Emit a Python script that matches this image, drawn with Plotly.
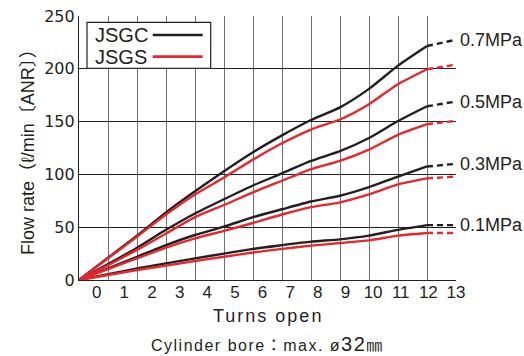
import plotly.graph_objects as go

# ---- data (x = turns open, gridline units; last point = dashed extension) ----
turns = [0, 1, 2, 3, 4, 5, 6, 7, 8, 9, 10, 11, 12, 13]
tick_labels = [0, 1, 2, 3, 4, 5, 6, 7, 8, 9, 10, 11, 12, 13]
y_ticks = [0, 50, 100, 150, 200, 250]

jsgc_01 = [0, 5.4, 11, 15.8, 20.5, 25, 29.5, 33, 36.3, 38.5, 42, 47.5, 52, 52]
jsgc_03 = [0, 11, 22, 33, 42.6, 50.5, 59.5, 67, 74.3, 79.8, 88, 98, 107.5, 110]
jsgc_05 = [0, 15, 30.5, 47.5, 63, 76.5, 89.5, 101, 112.8, 122, 134.5, 150.5, 164.5, 169]
jsgc_07 = [0, 21, 42, 64, 84, 103, 121, 137, 151.5, 163.5, 181, 203, 221.6, 227.5]

jsgs_01 = [0, 4.7, 9.5, 13.6, 18, 22, 26, 29.5, 32.5, 35, 37.5, 42, 44.5, 44.5]
jsgs_03 = [0, 10.4, 20.5, 30.6, 39.4, 46.5, 54, 62, 69, 73.5, 81, 90.5, 96.2, 98]
jsgs_05 = [0, 14, 28.5, 44, 59.5, 71, 83, 94, 105, 112.9, 123.5, 137.5, 147.5, 150.7]
jsgs_07 = [0, 20.5, 41, 62, 81, 97, 114, 129.5, 142.5, 152, 166.5, 185.4, 199.6, 204]

pressures = ["0.1MPa", "0.3MPa", "0.5MPa", "0.7MPa"]
series_names = ["JSGC", "JSGS"]

BLACK = "#231f20"
RED = "#e8262b"
TXT = "#231f20"
FONT = "Liberation Sans, Arial, Noto Sans CJK JP, sans-serif"

jsgc = [jsgc_01, jsgc_03, jsgc_05, jsgc_07]
jsgs = [jsgs_01, jsgs_03, jsgs_05, jsgs_07]

fig = go.Figure()

def add_series(vals, color):
    fig.add_trace(go.Scatter(
        x=turns[:13], y=vals[:13], mode="lines",
        line=dict(color=color, width=2.4, shape="spline", smoothing=0.6),
        showlegend=False, hoverinfo="skip", cliponaxis=False))
    fig.add_trace(go.Scatter(
        x=turns[12:], y=vals[12:], mode="lines",
        line=dict(color=color, width=2.4, dash="6px,4px"),
        showlegend=False, hoverinfo="skip", cliponaxis=False))

for v in jsgc:
    add_series(v, BLACK)
for v in jsgs:
    add_series(v, RED)

# pressure labels at the end of JSGC curves
annotations = []
for lab, v in zip(pressures, jsgc):
    annotations.append(dict(x=turns[-1], y=v[-1], xref="x", yref="y", text=lab,
                            showarrow=False, xanchor="left", yanchor="middle",
                            xshift=2, font=dict(family=FONT, size=18, color=TXT)))

# custom legend (text then line sample)
annotations += [
    dict(x=0.036, y=0.927, xref="paper", yref="paper", text=series_names[0], showarrow=False,
         xanchor="left", yanchor="middle", font=dict(family=FONT, size=20, color=TXT)),
    dict(x=0.036, y=0.845, xref="paper", yref="paper", text=series_names[1], showarrow=False,
         xanchor="left", yanchor="middle", font=dict(family=FONT, size=20, color=TXT)),
    # axis titles
    dict(x=-0.135, y=0.5, xref="paper", yref="paper", text="Flow rate（ℓ/min〔ANR〕）",
         textangle=-90, showarrow=False, xanchor="center", yanchor="middle",
         font=dict(family=FONT, size=18, color=TXT)),
    dict(x=0.5, y=-0.138, xref="paper", yref="paper",
         text="<span style='letter-spacing:2px'>Turns open</span>", showarrow=False,
         xanchor="center", yanchor="middle", font=dict(family=FONT, size=18, color=TXT)),
    dict(x=0.5, y=-0.244, xref="paper", yref="paper",
         text="<span style='letter-spacing:1.5px'>Cylinder bore：max. ø<span style='font-size:20px'>32</span>㎜</span>",
         showarrow=False, xanchor="center", yanchor="middle",
         font=dict(family=FONT, size=16, color=TXT)),
]

shapes = [
    dict(type="rect", xref="paper", yref="paper", x0=0.0212, x1=0.3493, y0=0.802, y1=0.976,
         line=dict(color=BLACK, width=1.2), fillcolor="white", layer="above"),
    dict(type="line", xref="paper", yref="paper", x0=0.1955, x1=0.328, y0=0.928, y1=0.928,
         line=dict(color=BLACK, width=2.6)),
    dict(type="line", xref="paper", yref="paper", x0=0.1955, x1=0.328, y0=0.846, y1=0.846,
         line=dict(color=RED, width=2.6)),
]

fig.update_layout(
    width=524, height=356,
    margin=dict(l=79, r=68, t=16, b=76, autoexpand=False),
    paper_bgcolor="white", plot_bgcolor="white",
    showlegend=False,
    annotations=annotations,
    shapes=shapes,
    xaxis=dict(range=[0, 13], dtick=1, tick0=0, showgrid=True, gridcolor="#707070", gridwidth=1.2,
               showticklabels=False, ticks="", zeroline=False,
               showline=True, linecolor="#222", linewidth=1.2),
    xaxis2=dict(range=[-0.64, 13], overlaying="x", anchor="y", side="bottom",
                tickmode="array", tickvals=tick_labels, ticktext=[str(t) for t in tick_labels],
                showgrid=False, zeroline=False, showline=False, ticks="",
                tickfont=dict(family=FONT, size=17, color=TXT)),
    yaxis=dict(range=[0, 250], tickvals=y_ticks, showgrid=True, gridcolor="#222", gridwidth=1,
               ticks="", zeroline=False, showline=True, linecolor="#222", linewidth=1.2,
               tickfont=dict(family="DejaVu Sans, sans-serif", size=16, color=TXT)),
)

# invisible trace to bind the tick-label axis
fig.add_trace(go.Scatter(x=tick_labels, y=[None] * len(tick_labels), xaxis="x2", yaxis="y",
                         showlegend=False, hoverinfo="skip", mode="lines"))

fig.write_html("out.html", config={"displayModeBar": False},
               post_script="document.body.style.margin='0';document.body.style.overflow='hidden';")
